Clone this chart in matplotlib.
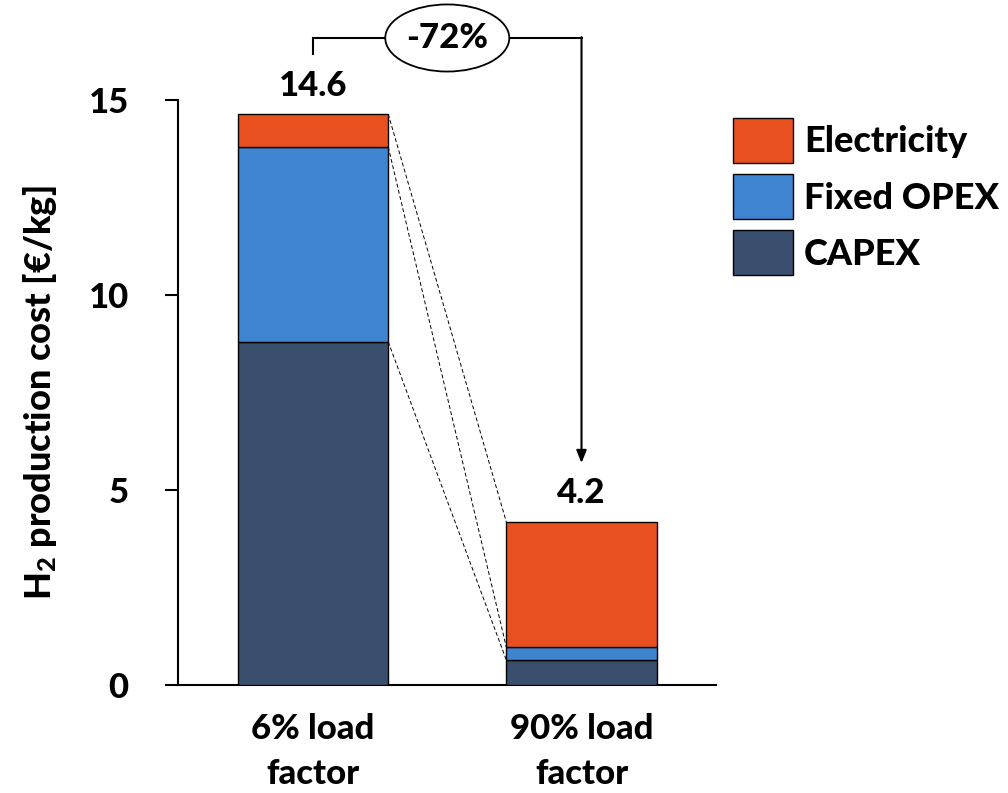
import matplotlib
matplotlib.use("Agg")
import matplotlib.pyplot as plt
from matplotlib.patches import Ellipse, Patch

plt.rcParams['font.family'] = ['Lato', 'DejaVu Sans']
plt.rcParams['font.weight'] = 'black'
plt.rcParams['mathtext.fontset'] = 'custom'
plt.rcParams['mathtext.rm'] = 'Lato:black'
plt.rcParams['mathtext.bf'] = 'Lato:black'
plt.rcParams['mathtext.default'] = 'bf'

FS = 25
W = 'black'

# Data
categories = ["6% load\nfactor", "90% load\nfactor"]
capex = [8.80, 0.64]
fixed_opex = [5.00, 0.33]
electricity = [0.84, 3.21]
components = ["CAPEX", "Fixed OPEX", "Electricity"]
change_label = "-72%"
yticks = [0, 5, 10, 15]

colors = {"CAPEX": "#3A4E6E", "Fixed OPEX": "#3F84D0", "Electricity": "#E8511F"}

fig = plt.figure(figsize=(10.08, 7.93), dpi=100)
ax = fig.add_axes([178 / 1008, 1 - 685 / 793, (716 - 178) / 1008, (685 - 100) / 793])

x = [0, 1]
width = 0.56
series = {"CAPEX": capex, "Fixed OPEX": fixed_opex, "Electricity": electricity}
bottom = [0.0, 0.0]
tops = {}
for name in components:
    vals = series[name]
    ax.bar(x, vals, width, bottom=bottom, color=colors[name],
           edgecolor="black", linewidth=1.0, zorder=3)
    bottom = [b + v for b, v in zip(bottom, vals)]
    tops[name] = list(bottom)

totals = bottom

# Dashed connectors between segment tops
for name in components:
    ax.plot([x[0] + width / 2, x[1] - width / 2], [tops[name][0], tops[name][1]],
            ls=(0, (4, 2.5)), color="black", lw=0.7, zorder=2)

# Total labels
for xi, t in zip(x, totals):
    ax.annotate(f"{t:.1f}", (xi, t), xytext=(0, 9), textcoords="offset points",
                ha="center", va="bottom", fontsize=FS, fontweight=W)

# Change bracket with arrow
y_br = 16.59
ax.plot([x[0], x[0], x[1]], [16.18, y_br, y_br], color="black", lw=1.5,
        clip_on=False, zorder=4, solid_joinstyle="miter")
ax.annotate("", xy=(x[1], 5.69), xytext=(x[1], y_br + 0.02),
            arrowprops=dict(arrowstyle="-|>,head_length=0.75,head_width=0.3",
                            color="black", lw=1.5, shrinkA=0, shrinkB=0),
            annotation_clip=False, zorder=4)
ell = Ellipse((0.5, y_br), 0.462, 1.72, facecolor="white", edgecolor="black",
              lw=1.3, clip_on=False, zorder=5)
ax.add_patch(ell)
ax.text(0.5, y_br, change_label, ha="center", va="center", fontsize=FS,
        fontweight=W, zorder=6, clip_on=False)

ax.set_xlim(-0.503, 1.501)
ax.set_ylim(0, 15)
ax.set_yticks(yticks)
ax.set_yticklabels([str(v) for v in yticks])
ax.set_xticks(x)
ax.set_xticklabels(categories, linespacing=1.5)

for s in ["top", "right"]:
    ax.spines[s].set_visible(False)
for s in ["left", "bottom"]:
    ax.spines[s].set_linewidth(1.5)

ax.tick_params(axis="y", direction="out", length=9.4, width=1.5, pad=26, labelsize=FS)
ax.tick_params(axis="x", length=0, pad=20, labelsize=FS)

ax.set_ylabel("H$_2$ production cost [€/kg]", fontsize=26, fontweight=W)
ax.yaxis.set_label_coords(-0.221, 0.5)

handles = [Patch(facecolor=colors[n], edgecolor="black", lw=1.0) for n in components[::-1]]
fig.legend(handles, components[::-1], loc="upper left",
           bbox_to_anchor=(733 / 1008, 1 - 118 / 793), frameon=False,
           fontsize=26, handlelength=1.66, handleheight=1.55, handletextpad=0.3,
           labelspacing=0.3, borderpad=0, borderaxespad=0)

fig.savefig("out.png", dpi=100)
